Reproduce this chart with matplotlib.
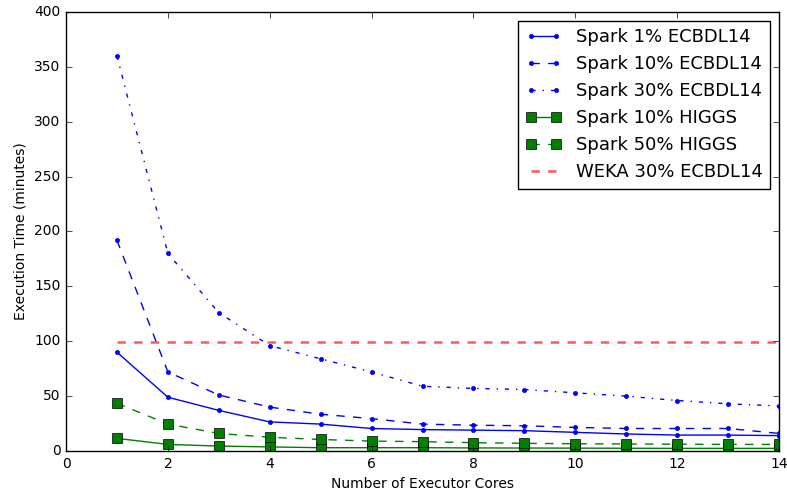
import matplotlib
matplotlib.use("Agg")
import matplotlib.pyplot as plt

plt.style.use("classic")

# Data
cores = [1, 2, 3, 4, 5, 6, 7, 8, 9, 10, 11, 12, 13, 14]
spark_1_ecbdl = [90, 49, 37, 26.5, 24.5, 20.5, 19.5, 19, 18.5, 17, 15.5, 14.5, 14.5, 14]
spark_10_ecbdl = [192, 72, 51, 40, 33.5, 29.5, 24.5, 23.5, 23, 21.5, 20.5, 20.5, 20.5, 16]
spark_30_ecbdl = [360, 180, 126, 96, 84, 72, 59, 57, 56, 53, 50, 46, 43, 41]
spark_10_higgs = [11.5, 6, 4.5, 3.7, 3, 3, 3, 2.8, 2.7, 2.6, 2.5, 2.4, 2.4, 2.4]
spark_50_higgs = [43.5, 24.5, 16, 12.5, 10.5, 9, 8.5, 7.6, 7, 6.6, 6.4, 6.2, 6, 6]
weka_30_ecbdl = [99] * len(cores)

fig = plt.figure(figsize=(7.87, 4.95), dpi=100)
ax = fig.add_axes([0.0839, 0.0889, 0.9059, 0.8869])

ax.plot(cores, spark_1_ecbdl, "b.-", label="Spark 1% ECBDL14")
ax.plot(cores, spark_10_ecbdl, "b.--", label="Spark 10% ECBDL14")
ax.plot(cores, spark_30_ecbdl, "b.-.", dashes=(3, 5, 1, 5), label="Spark 30% ECBDL14")
ax.plot(cores, spark_10_higgs, "gs-", markersize=7, label="Spark 10% HIGGS")
ax.plot(cores, spark_50_higgs, "gs--", markersize=7, label="Spark 50% HIGGS")
ax.plot(cores, weka_30_ecbdl, "r--", alpha=0.65, linewidth=1.8, label="WEKA 30% ECBDL14")

ax.set_xlim(0, 14)
ax.set_ylim(0, 400)
ax.set_xticks(range(0, 15, 2))
ax.set_yticks(range(0, 401, 50))
ax.tick_params(labelsize=10)
ax.set_xlabel("Number of Executor Cores", fontsize=10)
ax.set_ylabel("Execution Time (minutes)", fontsize=10)
ax.legend(loc="upper right", fontsize=13, numpoints=2)

fig.savefig("out.png", dpi=100)
